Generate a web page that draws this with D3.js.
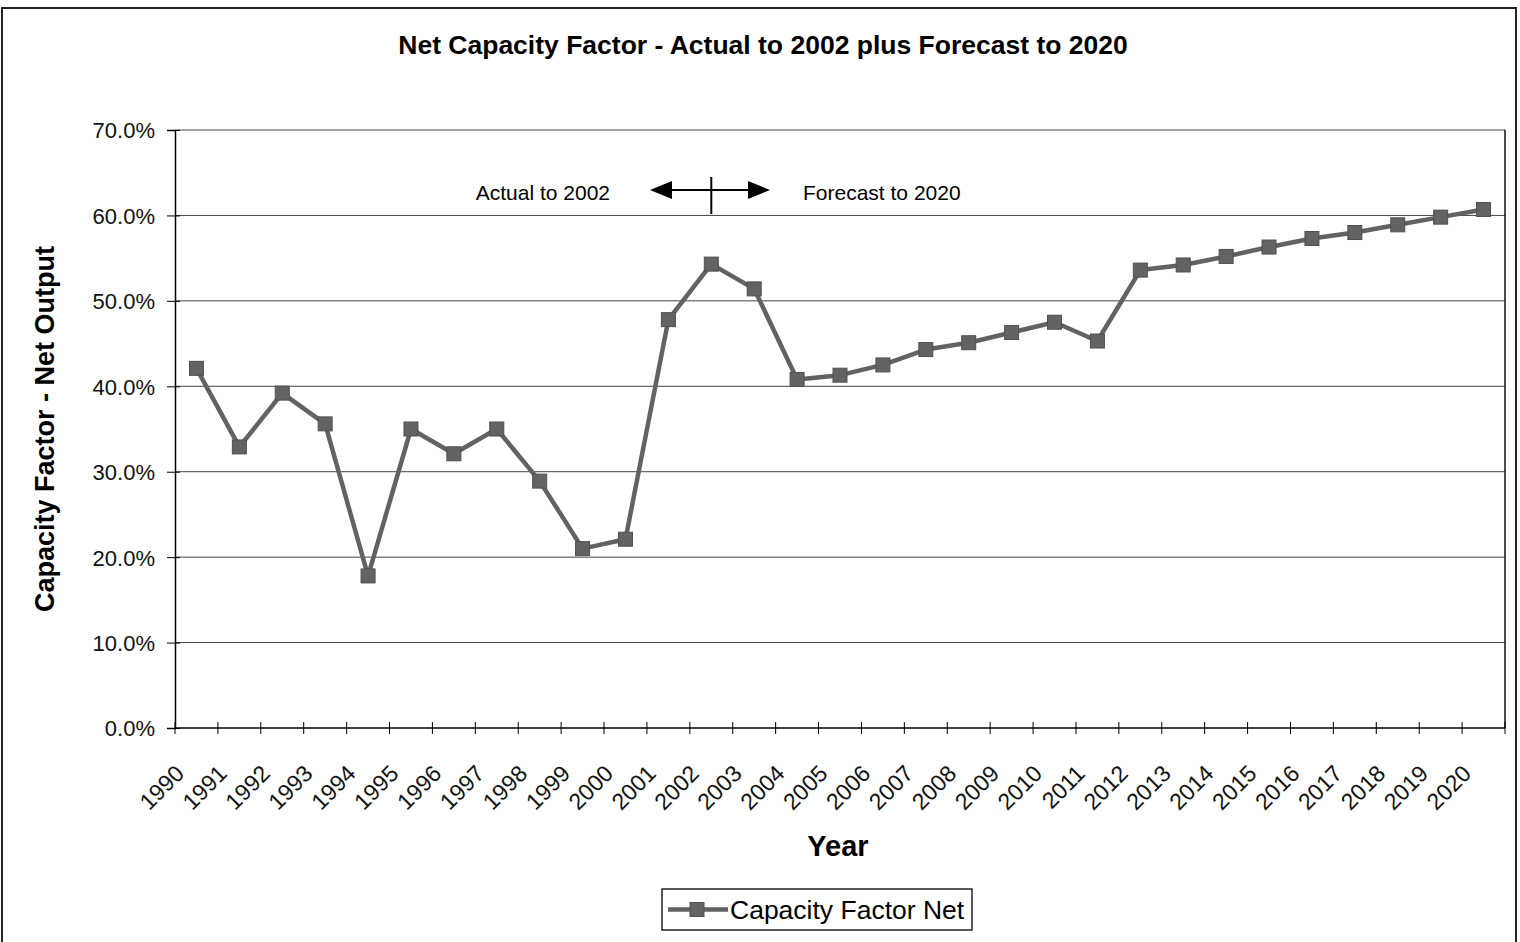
<!DOCTYPE html>
<html>
<head>
<meta charset="utf-8">
<script src="https://cdn.jsdelivr.net/npm/d3@7"></script>
<style>
  body { margin: 0; background: #fff; }
  svg { display: block; font-family: "Liberation Sans", Arial, sans-serif; }
</style>
</head>
<body>
<div id="chart"></div>
<script>
// years on the category axis
const years = d3.range(1990, 2021).map(String);
// net capacity factor (%), actual to 2002 then forecast
const capacityNet = [42.1, 32.9, 39.2, 35.6, 17.8, 35.0, 32.1, 35.0, 28.9, 21.0,
                     22.1, 47.8, 54.3, 51.4, 40.8, 41.3, 42.5, 44.3, 45.1, 46.3,
                     47.5, 45.3, 53.6, 54.2, 55.2, 56.3, 57.3, 58.0, 58.9, 59.8, 60.7];
const yTicks = [0, 10, 20, 30, 40, 50, 60, 70];

const width = 1520, height = 942;
const plotLeft = 175, plotRight = 1505, plotTop = 130, plotBottom = 728;

const svg = d3.select("#chart").append("svg")
    .attr("width", width)
    .attr("height", height);

// outer chart frame (bottom runs off the page)
svg.append("rect")
    .attr("x", 2).attr("y", 8)
    .attr("width", 1514).attr("height", 960)
    .attr("fill", "none")
    .attr("stroke", "#222")
    .attr("stroke-width", 2);

const x = d3.scaleBand().domain(years).range([plotLeft, plotRight]);
const y = d3.scaleLinear().domain([0, 70]).range([plotBottom, plotTop]);

// gridlines
svg.append("g").selectAll("line")
    .data(yTicks.filter(t => t > 0))
    .enter().append("line")
    .attr("x1", plotLeft).attr("x2", plotRight)
    .attr("y1", d => y(d)).attr("y2", d => y(d))
    .attr("stroke", "#444")
    .attr("stroke-width", 1);

// right border of plot area
svg.append("line")
    .attr("x1", plotRight).attr("x2", plotRight)
    .attr("y1", plotTop).attr("y2", plotBottom)
    .attr("stroke", "#111").attr("stroke-width", 1.5);

// y axis
const yAxis = svg.append("g")
    .attr("transform", `translate(${plotLeft},0)`)
    .call(d3.axisLeft(y).tickValues(yTicks).tickFormat(d => d.toFixed(1) + "%").tickSize(8).tickPadding(12));
yAxis.select(".domain").attr("stroke", "#000").attr("stroke-width", 1.5);
yAxis.selectAll(".tick line").attr("stroke", "#000").attr("x2", -8).attr("x1", 5);
yAxis.selectAll("text").attr("font-size", 22).attr("fill", "#111").attr("dy", "0.36em");

// x axis line + category boundary ticks
svg.append("line")
    .attr("x1", plotLeft).attr("x2", plotRight)
    .attr("y1", plotBottom).attr("y2", plotBottom)
    .attr("stroke", "#000").attr("stroke-width", 1.5);
svg.append("g").selectAll("line")
    .data(years.concat(["end"]))
    .enter().append("line")
    .attr("x1", d => d === "end" ? plotRight : x(d))
    .attr("x2", d => d === "end" ? plotRight : x(d))
    .attr("y1", plotBottom - 6).attr("y2", plotBottom + 6)
    .attr("stroke", "#000").attr("stroke-width", 1);

// rotated year labels
svg.append("g").selectAll("text")
    .data(years)
    .enter().append("text")
    .attr("transform", d => `translate(${x(d) + x.bandwidth() / 2 - 11},${plotBottom + 47}) rotate(-45)`)
    .attr("text-anchor", "end")
    .attr("font-size", 23)
    .attr("fill", "#111")
    .text(d => d);

// titles
svg.append("text")
    .attr("x", 763).attr("y", 54)
    .attr("text-anchor", "middle")
    .attr("font-size", 26.5).attr("font-weight", "bold")
    .text("Net Capacity Factor - Actual to 2002 plus Forecast to 2020");

svg.append("text")
    .attr("x", 838).attr("y", 856)
    .attr("text-anchor", "middle")
    .attr("font-size", 29).attr("font-weight", "bold")
    .text("Year");

svg.append("text")
    .attr("transform", `translate(54,${(plotTop + plotBottom) / 2}) rotate(-90)`)
    .attr("text-anchor", "middle")
    .attr("font-size", 27).attr("font-weight", "bold")
    .text("Capacity Factor - Net Output");

// annotation: actual / forecast split at 2002
const splitX = x("2002") + x.bandwidth() / 2;
const annY = 190;
svg.append("text")
    .attr("x", 610).attr("y", annY + 10)
    .attr("text-anchor", "end")
    .attr("font-size", 21)
    .text("Actual to 2002");
svg.append("text")
    .attr("x", 803).attr("y", annY + 10)
    .attr("font-size", 21)
    .text("Forecast to 2020");
svg.append("line")
    .attr("x1", 665).attr("x2", 755)
    .attr("y1", annY).attr("y2", annY)
    .attr("stroke", "#000").attr("stroke-width", 2);
svg.append("line")
    .attr("x1", splitX).attr("x2", splitX)
    .attr("y1", annY - 13).attr("y2", annY + 24)
    .attr("stroke", "#000").attr("stroke-width", 2);
svg.append("path")
    .attr("d", `M650,${annY} L672,${annY - 9} L672,${annY + 9} Z`)
    .attr("fill", "#000");
svg.append("path")
    .attr("d", `M770,${annY} L748,${annY - 9} L748,${annY + 9} Z`)
    .attr("fill", "#000");

// series line + square markers
const pts = years.map((yr, i) => ({ year: yr, value: capacityNet[i] }));
const line = d3.line()
    .x(d => x(d.year) + x.bandwidth() / 2)
    .y(d => y(d.value));

svg.append("path")
    .datum(pts)
    .attr("d", line)
    .attr("fill", "none")
    .attr("stroke", "#626262")
    .attr("stroke-width", 4.5)
    .attr("stroke-linejoin", "round");

const ms = 14;
svg.append("g").selectAll("rect")
    .data(pts)
    .enter().append("rect")
    .attr("x", d => x(d.year) + x.bandwidth() / 2 - ms / 2)
    .attr("y", d => y(d.value) - ms / 2)
    .attr("width", ms).attr("height", ms)
    .attr("fill", "#636363")
    .attr("stroke", "#505050")
    .attr("stroke-width", 1);

// legend
const lg = svg.append("g").attr("transform", "translate(662,889)");
lg.append("rect")
    .attr("width", 310).attr("height", 41)
    .attr("fill", "#fff")
    .attr("stroke", "#222").attr("stroke-width", 1.5);
lg.append("line")
    .attr("x1", 6).attr("x2", 66)
    .attr("y1", 20.5).attr("y2", 20.5)
    .attr("stroke", "#626262").attr("stroke-width", 4.5);
lg.append("rect")
    .attr("x", 35 - ms / 2).attr("y", 20.5 - ms / 2)
    .attr("width", ms).attr("height", ms)
    .attr("fill", "#636363").attr("stroke", "#505050");
lg.append("text")
    .attr("x", 68).attr("y", 30)
    .attr("font-size", 26.5)
    .text("Capacity Factor Net");
</script>
</body>
</html>
